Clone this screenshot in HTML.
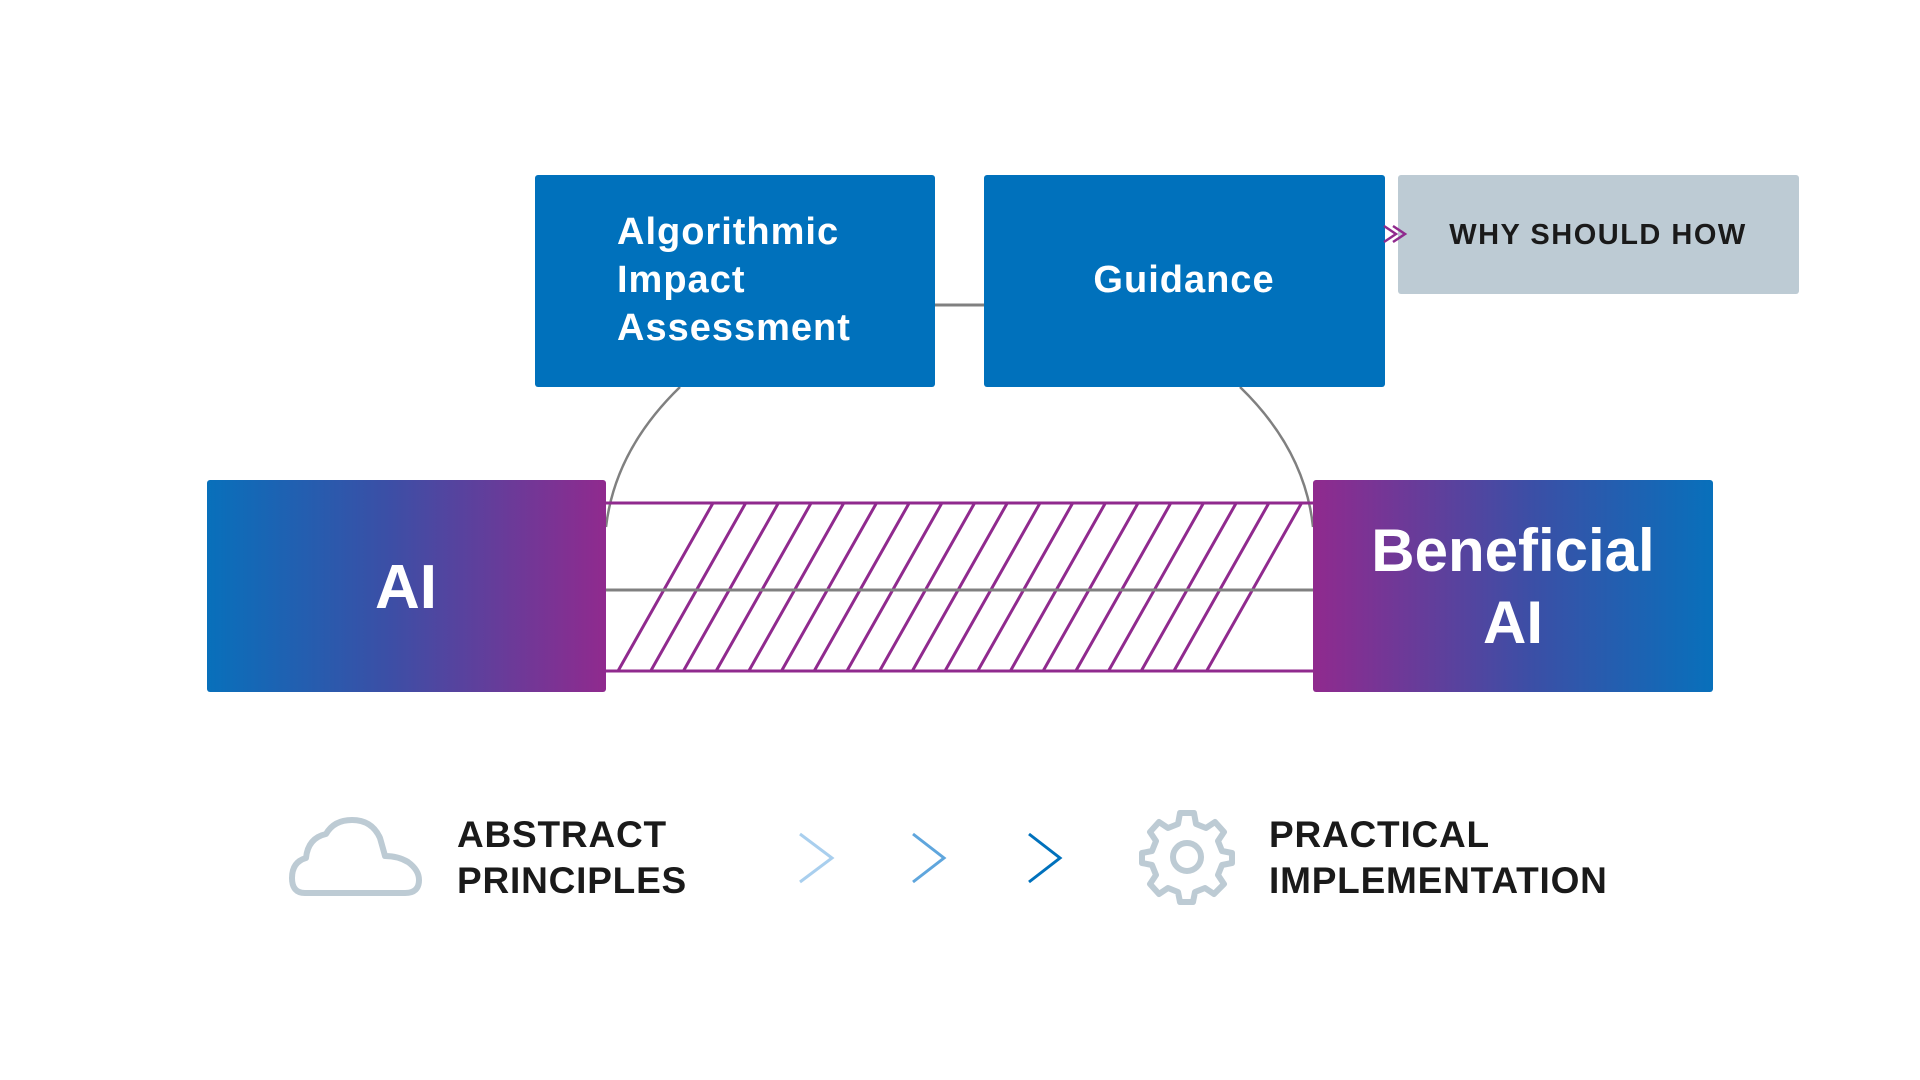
<!DOCTYPE html>
<html><head><meta charset="utf-8"><style>
html,body{margin:0;padding:0;background:#fff;}
svg{display:block;}
text{font-family:"Liberation Sans",sans-serif;}
</style></head><body>
<svg width="1920" height="1080" viewBox="0 0 1920 1080" xmlns="http://www.w3.org/2000/svg">
<defs>
<linearGradient id="g1" x1="0" x2="1" y1="0" y2="0"><stop offset="0" stop-color="#0870bb"/><stop offset="0.45" stop-color="#3b4fa6"/><stop offset="1" stop-color="#902a8e"/></linearGradient>
<linearGradient id="g2" x1="0" x2="1" y1="0" y2="0"><stop offset="0" stop-color="#902a8e"/><stop offset="0.55" stop-color="#3b4fa6"/><stop offset="1" stop-color="#0870bb"/></linearGradient>
</defs>
<line x1="935" y1="305" x2="984" y2="305" stroke="#808080" stroke-width="3"/>
<path d="M680 387 Q615 450 606 527" fill="none" stroke="#808080" stroke-width="2.5"/>
<path d="M1240 387 Q1305 450 1313 527" fill="none" stroke="#808080" stroke-width="2.5"/>
<g stroke="#902a8e" stroke-width="3" fill="none">
<line x1="606" y1="503" x2="1313" y2="503"/>
<line x1="606" y1="671" x2="1313" y2="671"/>
<path d="M618 671 L713 503 M650.7 671 L745.7 503 M683.4 671 L778.4 503 M716.1 671 L811.1 503 M748.8 671 L843.8 503 M781.5 671 L876.5 503 M814.2 671 L909.2 503 M846.9 671 L941.9 503 M879.6 671 L974.6 503 M912.3 671 L1007.3 503 M945 671 L1040 503 M977.7 671 L1072.7 503 M1010.4 671 L1105.4 503 M1043.1 671 L1138.1 503 M1075.8 671 L1170.8 503 M1108.5 671 L1203.5 503 M1141.2 671 L1236.2 503 M1173.9 671 L1268.9 503 M1206.6 671 L1301.6 503"/>
</g>
<line x1="606" y1="590" x2="1313" y2="590" stroke="#808080" stroke-width="3"/>
<rect x="535" y="175" width="400" height="212" rx="3" fill="#0071bc"/>
<text fill="#fff" font-size="38" font-weight="600" letter-spacing="1"><tspan x="617" y="244">Algorithmic</tspan><tspan x="617" y="292">Impact</tspan><tspan x="617" y="340">Assessment</tspan></text>
<rect x="984" y="175" width="401" height="212" rx="3" fill="#0071bc"/>
<text x="1184" y="292" fill="#fff" font-size="38" font-weight="600" text-anchor="middle" letter-spacing="1">Guidance</text>
<rect x="1398" y="175" width="401" height="119" rx="3" fill="#bdcbd4"/>
<text x="1598" y="244" fill="#1a1a1a" font-size="29" font-weight="600" text-anchor="middle" letter-spacing="1.5">WHY SHOULD HOW</text>
<path d="M1384 226 L1396 234 L1384 242 M1393 226 L1405 234 L1393 242" fill="none" stroke="#902a8e" stroke-width="2.5"/>
<rect x="207" y="480" width="399" height="212" rx="3" fill="url(#g1)"/>
<text x="406" y="608" fill="#fff" font-size="62" font-weight="bold" text-anchor="middle">AI</text>
<rect x="1313" y="480" width="400" height="212" rx="3" fill="url(#g2)"/>
<text fill="#fff" font-size="60" font-weight="bold" text-anchor="middle"><tspan x="1513" y="571">Beneficial</tspan><tspan x="1513" y="643">AI</tspan></text>
<path d="M305 893 Q292 893 292 878 Q292 862 306 858 Q308 838 326 834 Q334 820 352 820 Q372 820 380 838 Q384 852 385 856 Q398 856 408 862 Q419 870 419 880 Q419 893 405 893 Z" fill="none" stroke="#bdcbd4" stroke-width="6" stroke-linejoin="round"/>
<text fill="#1a1a1a" font-size="37" font-weight="bold" letter-spacing="0.8"><tspan x="457" y="847">ABSTRACT</tspan><tspan x="457" y="893">PRINCIPLES</tspan></text>
<path d="M800 834 L832 858 L800 882" fill="none" stroke="#a9cfee" stroke-width="3"/>
<path d="M913 834 L944 858 L913 882" fill="none" stroke="#5fa6dd" stroke-width="3"/>
<path d="M1029 834 L1060 858 L1029 882" fill="none" stroke="#0071bc" stroke-width="3"/>
<g transform="translate(1187 857)" fill="none" stroke="#bdcbd4" stroke-width="6" stroke-linejoin="round">
<path d="M-7 -44 L7 -44 L9 -33 L19 -29 L28 -35 L37 -25 L31 -16 L35 -6 L45 -4 L45 6 L35 8 L31 18 L37 27 L27 37 L18 31 L8 35 L6 45 L-7 45 L-9 35 L-19 31 L-28 37 L-37 27 L-31 18 L-35 8 L-45 6 L-45 -4 L-35 -6 L-31 -16 L-37 -25 L-28 -35 L-19 -29 L-9 -33 Z"/>
<circle r="14"/>
</g>
<text fill="#1a1a1a" font-size="37" font-weight="bold" letter-spacing="0.8"><tspan x="1269" y="847">PRACTICAL</tspan><tspan x="1269" y="893">IMPLEMENTATION</tspan></text>
</svg>
</body></html>
